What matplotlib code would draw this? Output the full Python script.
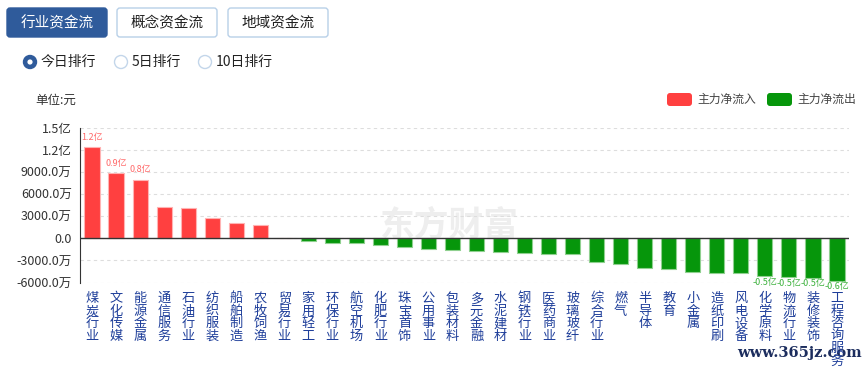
import matplotlib
matplotlib.use('Agg')
import matplotlib.pyplot as plt
from matplotlib.patches import FancyBboxPatch, Circle
import numpy as np

plt.rcParams['font.family'] = ['Noto Sans CJK SC', 'DejaVu Sans']

# 行业资金流 - 今日排行 (单位: 万元)
industries = ['煤炭行业', '文化传媒', '能源金属', '通信服务', '石油行业', '纺织服装', '船舶制造', '农牧饲渔',
              '贸易行业', '家用轻工', '环保行业', '航空机场', '化肥行业', '珠宝首饰', '公用事业', '包装材料',
              '多元金融', '水泥建材', '钢铁行业', '医药商业', '玻璃玻纤', '综合行业', '燃气', '半导体',
              '教育', '小金属', '造纸印刷', '风电设备', '化学原料', '物流行业', '装修装饰', '工程咨询服务']
net_flow = [12360, 8870, 7950, 4310, 4090, 2730, 2050, 1820,
            50, -370, -600, -680, -910, -1140, -1420, -1640,
            -1770, -1910, -2050, -2100, -2150, -3190, -3550, -4050,
            -4140, -4600, -4690, -4770, -5180, -5280, -5370, -5780]
labelled = [0, 1, 2, 28, 29, 30, 31]
y_ticks = [-6000, -3000, 0, 3000, 6000, 9000, 12000, 15000]

RED = '#ff4040'
GREEN = '#06960b'
W, H = 864, 368


def fmt(v):
    if v == 0:
        return '0.0'
    if abs(v) >= 10000:
        return f'{v / 10000:.1f}亿'
    return f'{v:.1f}万'


fig = plt.figure(figsize=(8.64, 3.68), dpi=100)

# overlay in pixel coordinates for the page widgets
ui = fig.add_axes([0, 0, 1, 1], zorder=-1)
ui.set_xlim(0, W)
ui.set_ylim(H, 0)
ui.axis('off')

buttons = [('行业资金流', 7, True), ('概念资金流', 117, False), ('地域资金流', 228, False)]
for txt, x0, active in buttons:
    ui.add_patch(FancyBboxPatch((x0, 8), 100, 29, boxstyle='round,pad=0,rounding_size=3',
                                facecolor='#2f5b9b' if active else 'white',
                                edgecolor='#2f5b9b' if active else '#b8d0e8', lw=1))
    ui.text(x0 + 50, 23, txt, ha='center', va='center', fontsize=10.5,
            color='white' if active else '#222222')

radios = [('今日排行', 30, True), ('5日排行', 121, False), ('10日排行', 205, False)]
for txt, cx, active in radios:
    if active:
        ui.add_patch(Circle((cx, 62), 6.5, facecolor='#2f5b9b', edgecolor='#2f5b9b'))
        ui.add_patch(Circle((cx, 62), 2.6, facecolor='white', edgecolor='none'))
    else:
        ui.add_patch(Circle((cx, 62), 6.5, facecolor='white', edgecolor='#c3d6ea', lw=1))
    ui.text(cx + 11, 62, txt, ha='left', va='center', fontsize=10, color='#222222')

ui.text(35, 100, '单位:元', ha='left', va='center', fontsize=9, color='#333333')

for txt, x0, c in [('主力净流入', 667, RED), ('主力净流出', 767, GREEN)]:
    ui.add_patch(FancyBboxPatch((x0, 93), 25, 13, boxstyle='round,pad=0,rounding_size=3',
                                facecolor=c, edgecolor='none'))
    ui.text(x0 + 30, 99.5, txt, ha='left', va='center', fontsize=8.5, color='#444444')

ui.text(799, 353, 'www.365jz.com', ha='center', va='center', fontsize=10.5, fontweight='bold',
        family='DejaVu Serif', color='#1c2d5e')

# main chart
ax = fig.add_axes([80 / W, (H - 282.5) / H, 769 / W, 154.5 / H])
ax.set_facecolor('none')
x = np.arange(len(industries))
colors = [RED if v >= 0 else GREEN for v in net_flow]
edges = ['#ffb3b3' if v >= 0 else '#8fd08f' for v in net_flow]
ax.bar(x, net_flow, width=0.63, color=colors, edgecolor=edges, linewidth=0.8, zorder=3)

for i in labelled:
    v = net_flow[i]
    if v >= 0:
        ax.annotate(f'{v / 10000:.1f}亿', (x[i], v), xytext=(0, 4), textcoords='offset points',
                    ha='center', va='bottom', fontsize=6.5, color='#ff6a6a')
    else:
        ax.annotate(f'{v / 10000:.1f}亿', (x[i], v), xytext=(0, -1), textcoords='offset points',
                    ha='center', va='top', fontsize=6.5, color='#3cb13c')

ax.set_xlim(-0.5, len(industries) - 0.5)
ax.set_ylim(-6000, 15000)
ax.set_yticks(y_ticks)
ax.set_yticklabels([fmt(v) for v in y_ticks], fontsize=9, color='#333333')
ax.tick_params(axis='y', length=0, pad=6)
ax.set_xticks(x)
ax.set_xticklabels(['\n'.join(name) for name in industries], fontsize=9.5, color='#1f3f9a',
                   va='top', linespacing=0.95)
ax.tick_params(axis='x', length=0, pad=7)
ax.grid(axis='y', color='#dddddd', linestyle=(0, (3, 3)), linewidth=0.8, zorder=0)
ax.axhline(0, color='#333333', linewidth=1, zorder=4)
for s in ['top', 'right', 'bottom']:
    ax.spines[s].set_visible(False)
ax.spines['left'].set_color('#333333')

ax.text(0.48, 0.37, '东方财富', transform=ax.transAxes, ha='center', va='center', fontsize=25,
        fontweight='bold', color='#eeeeee', zorder=1)

plt.savefig('out.png', dpi=100)
